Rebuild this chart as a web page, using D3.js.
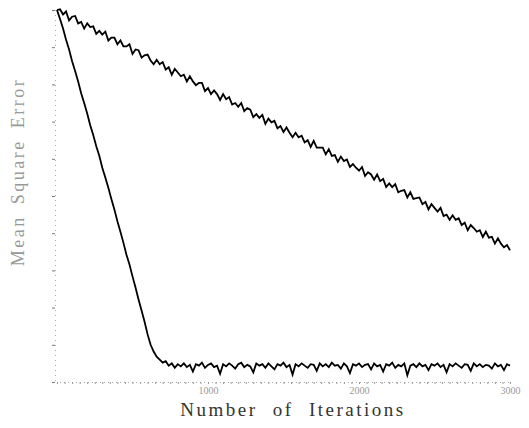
<!DOCTYPE html>
<html>
<head>
<meta charset="utf-8">
<script src="https://cdn.jsdelivr.net/npm/d3@7"></script>
<style>
  body { margin: 0; background: #fff; }
  svg { display: block; }
  .title { font-family: 'Liberation Serif', 'DejaVu Serif', serif; }
</style>
</head>
<body>
<svg width="529" height="428"></svg>
<script>
var iterStep = 20;

var slowMse = [
  0.0, 0.1, -0.6, -0.2, -1.4, -0.9, -0.8, -1.8, -1.6, -2.5,
  -1.8, -2.3, -2.2, -3.2, -2.8, -3.3, -2.9, -4.1, -3.7, -3.7,
  -4.6, -4.1, -4.9, -4.9, -4.6, -5.9, -5.3, -5.4, -6.4, -6.1,
  -6.0, -6.8, -7.3, -6.7, -7.3, -7.0, -8.0, -7.7, -8.7, -7.9,
  -8.4, -8.9, -8.7, -9.6, -8.9, -9.6, -10.1, -9.8, -9.8, -10.9,
  -10.5, -11.3, -10.8, -11.3, -12.1, -11.3, -12.0, -11.7, -12.7, -12.5,
  -13.0, -12.5, -13.6, -13.2, -13.4, -14.4, -14.0, -14.5, -14.1, -15.3,
  -14.6, -15.1, -14.9, -15.9, -15.6, -16.4, -15.8, -16.5, -17.1, -16.5,
  -17.1, -16.9, -17.8, -17.5, -18.4, -17.6, -18.5, -18.5, -18.5, -19.4,
  -18.7, -19.6, -19.5, -20.4, -19.7, -20.3, -20.1, -21.1, -20.7, -21.2,
  -21.6, -21.1, -22.3, -21.8, -22.1, -22.8, -22.1, -23.0, -22.7, -23.8,
  -23.3, -23.8, -23.4, -24.5, -24.3, -24.2, -25.2, -24.5, -25.4, -25.3,
  -25.2, -26.1, -25.8, -26.8, -26.1, -26.6, -27.1, -26.6, -27.7, -27.5,
  -28.2, -27.6, -28.2, -28.0, -28.9, -28.6, -29.6, -28.9, -29.3, -29.8,
  -29.6, -30.5, -29.8, -30.6, -30.5, -31.4, -30.7, -31.4, -31.9, -31.6,
  -32.3
];

var fastMse = [
  0.0, -1.2, -2.5, -4.0, -5.3, -6.9, -8.2, -9.6, -11.2, -12.5,
  -13.9, -15.5, -16.8, -18.3, -19.6, -21.2, -22.5, -23.9, -25.4, -26.8,
  -28.4, -29.8, -31.3, -32.9, -34.2, -35.8, -37.3, -38.9, -40.4, -41.9,
  -43.6, -45.0, -45.9, -46.6, -47.0, -47.4, -47.2, -47.8, -47.5, -48.1,
  -47.6, -47.9, -47.5, -48.0, -47.7, -48.6, -47.6, -47.8, -47.4, -48.1,
  -47.7, -47.5, -48.0, -47.8, -48.9, -47.6, -47.9, -47.5, -47.8, -48.2,
  -47.6, -47.4, -48.0, -47.7, -47.9, -48.7, -47.5, -47.8, -47.6, -48.1,
  -47.5, -47.9, -48.3, -47.6, -47.8, -47.4, -48.0, -47.7, -49.0, -47.6,
  -47.9, -47.5, -47.8, -48.1, -47.6, -47.7, -48.5, -47.5, -47.9, -47.6,
  -48.0, -47.4, -47.8, -47.7, -48.2, -47.5, -47.9, -48.8, -47.6, -47.8,
  -47.5, -48.0, -47.7, -47.6, -48.3, -47.5, -47.9, -47.7, -48.6, -47.6,
  -47.8, -47.4, -48.1, -47.7, -47.9, -47.5, -49.1, -47.8, -47.6, -48.0,
  -47.5, -47.9, -47.7, -48.4, -47.6, -47.8, -47.5, -48.0, -47.7, -48.7,
  -47.6, -47.9, -47.5, -47.8, -48.1, -47.6, -47.7, -48.5, -47.5, -47.9,
  -47.6, -48.0, -47.7, -47.8, -48.2, -47.5, -47.9, -47.7, -48.4, -47.6,
  -47.8
];

var xTickLabels = [1000, 2000, 3000];
var yTicks = [-50, -45, -40, -35, -30, -25, -20, -15, -10, -5, 0];

function renderChart() {
  var svg = d3.select('svg'),
    margin = { top: 10, right: 19, bottom: 46, left: 57 },
    width = +svg.attr('width') - margin.left - margin.right,
    height = +svg.attr('height') - margin.top - margin.bottom;

  var x = d3.scaleLinear().domain([0, 3000]).range([0, width]);
  var y = d3.scaleLinear().domain([-50, 0]).range([height, 0]);

  var g = svg
    .append('g')
    .attr('transform', 'translate(' + margin.left + ',' + margin.top + ')');

  // x axis: dotted line with lots of little ticks
  var xa = g.append('g')
    .attr('transform', 'translate(0,' + height + ')')
    .call(d3.axisBottom(x).tickValues(d3.range(0, 3001, 50)).tickSize(2).tickFormat(''));
  xa.select('.domain').attr('stroke', '#aaa').attr('stroke-dasharray', '1,3');
  xa.selectAll('.tick line').attr('stroke', '#999');

  var xl = g.append('g')
    .attr('transform', 'translate(0,' + height + ')')
    .call(d3.axisBottom(x).tickValues(xTickLabels).tickSize(0).tickPadding(5).tickFormat(d3.format('d')));
  xl.select('.domain').remove();
  xl.selectAll('text')
    .attr('fill', '#999')
    .style('font-family', 'Liberation Serif, serif')
    .style('font-size', '10px');

  // y axis
  var ya = g.append('g')
    .attr('transform', 'translate(-2,0)')
    .call(d3.axisLeft(y).tickValues(yTicks).tickSize(3).tickFormat(''));
  ya.select('.domain').attr('stroke', '#aaa').attr('stroke-dasharray', '1,4');
  ya.selectAll('.tick line').attr('stroke', '#777');

  var line = d3.line()
    .x(function (d, i) { return x(i * iterStep); })
    .y(function (d) { return y(d); });

  g.append('path')
    .datum(slowMse)
    .attr('fill', 'none')
    .attr('stroke', '#000')
    .attr('stroke-width', 1.8)
    .attr('d', line);

  g.append('path')
    .datum(fastMse)
    .attr('fill', 'none')
    .attr('stroke', '#000')
    .attr('stroke-width', 1.8)
    .attr('d', line);

  // titles
  svg.append('text')
    .attr('class', 'title')
    .attr('transform', 'translate(24,' + 172 + ') rotate(-90)')
    .attr('text-anchor', 'middle')
    .attr('fill', '#999')
    .style('font-size', '18px')
    .style('letter-spacing', '2.5px')
    .style('word-spacing', '4px')
    .text('Mean Square Error');

  svg.append('text')
    .attr('class', 'title')
    .attr('x', 293)
    .attr('y', 416)
    .attr('text-anchor', 'middle')
    .attr('fill', '#333')
    .style('font-size', '19px')
    .style('letter-spacing', '2.5px')
    .style('word-spacing', '8px')
    .text('Number of Iterations');
}

renderChart();
</script>
</body>
</html>
